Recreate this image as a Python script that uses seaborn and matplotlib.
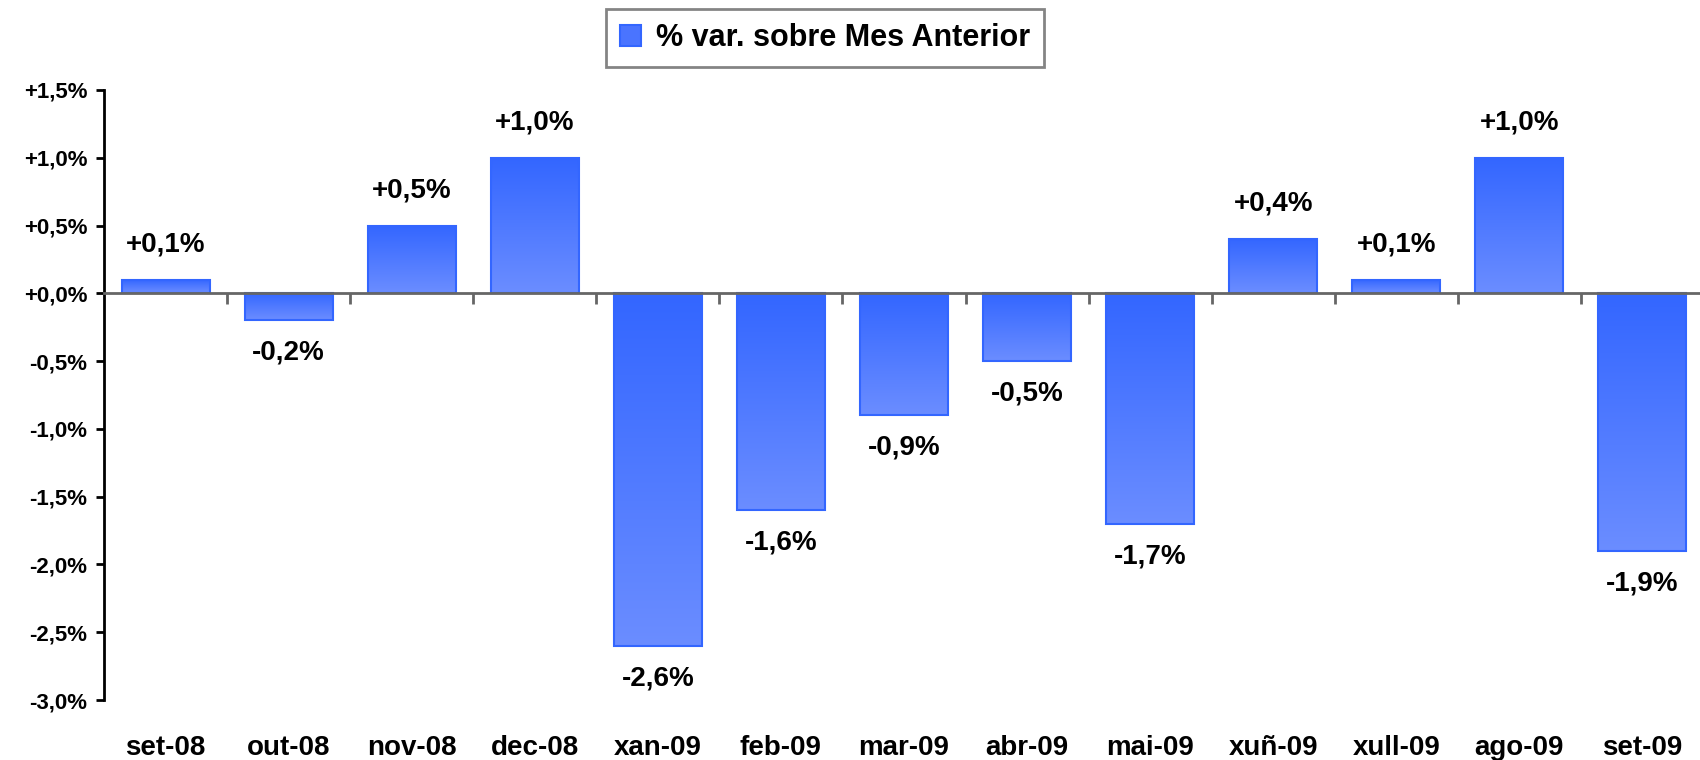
import numpy as np
import pandas as pd
import matplotlib
matplotlib.use("Agg")
import matplotlib.pyplot as plt
from matplotlib.colors import LinearSegmentedColormap
from matplotlib.ticker import FixedLocator
import seaborn as sns

# Data
months = ["set-08", "out-08", "nov-08", "dec-08", "xan-09", "feb-09", "mar-09",
          "abr-09", "mai-09", "xuñ-09", "xull-09", "ago-09", "set-09"]
values = [0.1, -0.2, 0.5, 1.0, -2.6, -1.6, -0.9, -0.5, -1.7, 0.4, 0.1, 1.0, -1.9]
yticks = [1.5, 1.0, 0.5, 0.0, -0.5, -1.0, -1.5, -2.0, -2.5, -3.0]
series_name = "% var. sobre Mes Anterior"

df = pd.DataFrame({"mes": months, "var": values})

sns.set_style("white")
plt.rcParams["font.family"] = ["Liberation Sans", "DejaVu Sans"]
plt.rcParams["text.color"] = "black"
plt.rcParams["xtick.labelcolor"] = "black"
plt.rcParams["ytick.labelcolor"] = "black"

fig = plt.figure(figsize=(17, 7.6), dpi=100)
ax = fig.add_axes([104 / 1700, 60 / 760, 1600 / 1700, 610 / 760])

sns.barplot(data=df, x="mes", y="var", color="#4A74FF", width=0.715,
            edgecolor="#3366FF", linewidth=1.5, label=series_name, ax=ax)

# gradient fill inside each bar (dark at top, lighter at bottom)
cmap = LinearSegmentedColormap.from_list("grad", ["#3366FF", "#6B8DFF"])
grad = np.linspace(0, 1, 256).reshape(-1, 1)
for p in list(ax.patches):
    x0, y0 = p.get_x(), p.get_y()
    w, h = p.get_width(), p.get_height()
    ylo, yhi = min(y0, y0 + h), max(y0, y0 + h)
    im = ax.imshow(grad, extent=[x0, x0 + w, ylo, yhi], aspect="auto",
                   cmap=cmap, zorder=p.get_zorder() - 0.1, interpolation="bicubic")
    im.set_clip_path(p)
    p.set_facecolor("none")

ax.set_xlim(-0.5, len(months) - 0.5)
ax.set_ylim(-3.0, 1.5)

# y axis
ax.set_yticks(yticks)
ax.set_yticklabels([f"{v:+.1f}%".replace(".", ",") for v in yticks],
                   fontsize=16, fontweight="bold", color="black")
ax.tick_params(axis="y", left=True, direction="out", length=6, width=2,
               color="black", pad=6)
ax.spines["left"].set_linewidth(2)
ax.spines["left"].set_color("black")
ax.spines["right"].set_visible(False)
ax.spines["top"].set_visible(False)

# zero line as bottom spine with boundary ticks
ax.spines["bottom"].set_position(("data", 0))
ax.spines["bottom"].set_color("#666666")
ax.spines["bottom"].set_linewidth(2)
ax.spines["bottom"].set_zorder(5)
ax.xaxis.set_minor_locator(FixedLocator(np.arange(0.5, len(months) - 0.5, 1)))
ax.tick_params(axis="x", which="minor", bottom=True, direction="out", length=8,
               width=2, color="#666666")
ax.tick_params(axis="x", which="major", length=0, labelbottom=False)
ax.set_xlabel("")
ax.set_ylabel("")

# month labels at the bottom
sec = ax.secondary_xaxis(0)
sec.set_xticks(range(len(months)))
sec.set_xticklabels(months, fontsize=20, fontweight="bold", color="black")
sec.tick_params(length=0, pad=25)
sec.spines["bottom"].set_visible(False)

# value labels
for i, v in enumerate(values):
    txt = f"{v:+.1f}%".replace(".", ",")
    off = 0.26 if v >= 0 else -0.24
    ax.text(i, v + off, txt, ha="center", va="center", fontsize=20,
            fontweight="bold", color="black")

leg = ax.legend(loc="center", bbox_to_anchor=(825 / 1700, 1 - 38 / 760),
                bbox_transform=fig.transFigure, frameon=True, fancybox=False,
                prop={"size": 22, "weight": "bold"}, handlelength=0.7,
                handleheight=0.7, handletextpad=0.5, borderpad=0.45,
                labelcolor="black")
leg.get_frame().set_edgecolor("#666666")
leg.get_frame().set_linewidth(2)
for h in leg.legend_handles:
    h.set_facecolor("#4A74FF")
    h.set_edgecolor("#3366FF")

fig.savefig("out.png", dpi=100)
